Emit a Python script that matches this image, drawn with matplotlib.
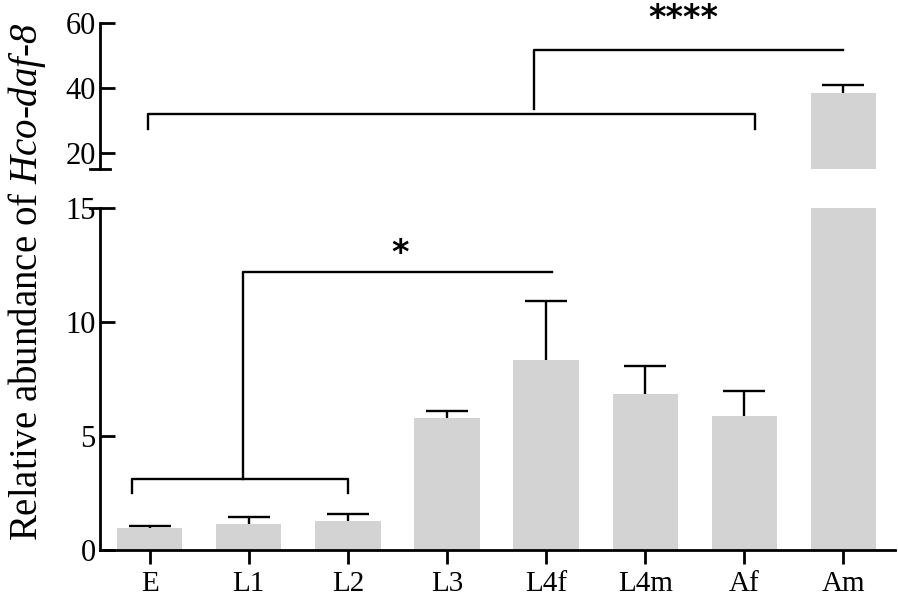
import numpy as np
import matplotlib.pyplot as plt

plt.rcParams['font.family'] = 'Liberation Serif'
plt.rcParams['mathtext.fontset'] = 'custom'
plt.rcParams['mathtext.rm'] = 'Liberation Serif'
# italic face mapped to sf so the digit stays italic too
plt.rcParams['mathtext.sf'] = 'Liberation Serif:italic'

# stages and relative abundance (mean, upper SD)
stages = ['E', 'L1', 'L2', 'L3', 'L4f', 'L4m', 'Af', 'Am']
means = [0.98, 1.14, 1.27, 5.78, 8.32, 6.84, 5.86, 38.5]
errs = [0.09, 0.29, 0.30, 0.32, 2.58, 1.24, 1.11, 2.4]

x = np.arange(len(stages))
bar_color = '#d3d3d3'
lw = 1.7

fig = plt.figure(figsize=(8.98, 6.01), dpi=100)
ax_lo = fig.add_axes([0.1114, 0.0849, 0.8853, 0.569])
ax_hi = fig.add_axes([0.1114, 0.7188, 0.8853, 0.2429])

for ax in (ax_lo, ax_hi):
    ax.bar(x, means, width=0.66, color=bar_color)
    eb = ax.errorbar(x, means, yerr=[np.zeros(len(errs)), errs], fmt='none',
                     ecolor='black', elinewidth=lw, capsize=15, capthick=lw)
    eb[1][0].set_visible(False)  # only the upper cap
    ax.set_xlim(-0.5, 7.52)
    for s in ('top', 'right'):
        ax.spines[s].set_visible(False)
    ax.spines['left'].set_linewidth(2)
    ax.tick_params(axis='y', direction='in', length=11, width=2, labelsize=22, pad=3)

ax_lo.set_ylim(0, 15)
ax_lo.set_yticks([0, 5, 10, 15])
ax_lo.spines['bottom'].set_linewidth(2)
ax_lo.set_xticks(x)
ax_lo.set_xticklabels(stages)
ax_lo.tick_params(axis='x', direction='out', length=10, width=2, labelsize=21, pad=5)

ax_hi.set_ylim(15, 60)
ax_hi.set_yticks([20, 40, 60])
ax_hi.spines['bottom'].set_visible(False)
ax_hi.set_xticks([])

# break marks across the left spine
ax_hi.plot([-0.012, 0.012], [0, 0], transform=ax_hi.transAxes, color='black', lw=2, clip_on=False)
ax_lo.plot([-0.012, 0.0], [1, 1], transform=ax_lo.transAxes, color='black', lw=2, clip_on=False)

# significance brackets (lower axis)
ax_lo.plot([-0.18, -0.18, 2.0, 2.0], [2.5, 3.1, 3.1, 2.5], color='black', lw=lw)
ax_lo.plot([0.94, 0.94, 4.06], [3.1, 12.18, 12.18], color='black', lw=lw)
ax_lo.text(2.53, 13.0, '*', ha='center', va='center', fontsize=24,
           fontweight='bold', family='DejaVu Sans')

# significance brackets (upper axis)
ax_hi.plot([-0.02, -0.02, 6.11, 6.11], [27.4, 32, 32, 27.4], color='black', lw=lw)
ax_hi.plot([3.88, 3.88, 7.0], [33.5, 51.8, 51.8], color='black', lw=lw)
ax_hi.text(5.38, 61.5, '****', ha='center', va='center', fontsize=24,
           fontweight='bold', family='DejaVu Sans', clip_on=False)

fig.text(0.03, 0.532, r'Relative abundance of $\mathsf{Hco}$-$\mathsf{daf}$-$\mathsf{8}$',
         rotation=90, ha='center', va='center', fontsize=28)

fig.savefig('out.png', dpi=100)
